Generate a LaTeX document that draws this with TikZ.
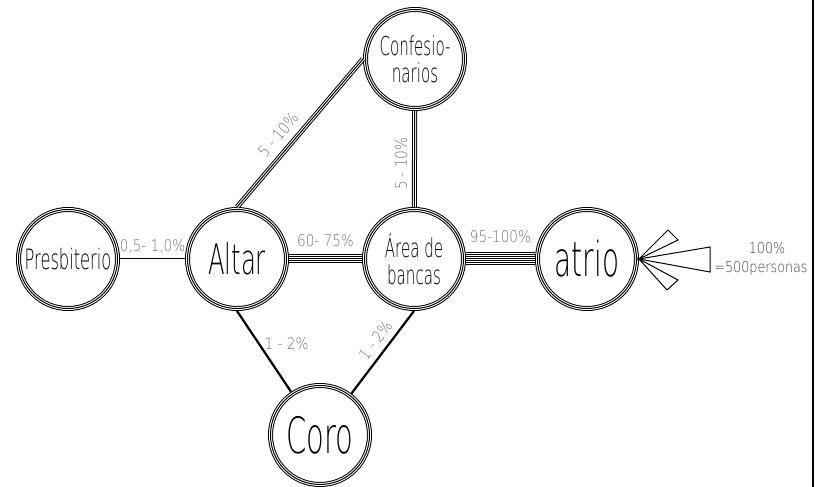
\documentclass[tikz,border=0pt]{standalone}
\usepackage{fontspec}
\usepackage{xcolor}
\usetikzlibrary{positioning}
\IfFontExistsTF{DejaVu Sans ExtraLight}
  {\newfontfamily\handfont{DejaVu Sans ExtraLight}[FakeStretch=0.58]
   \newfontfamily\lblfont{DejaVu Sans ExtraLight}[FakeStretch=0.85]}
  {\newfontfamily\handfont{DejaVu Sans}[FakeStretch=0.58]
   \newfontfamily\lblfont{DejaVu Sans}[FakeStretch=0.85]}

\begin{document}
\begin{tikzpicture}[
  x=1pt, y=1pt,
  ring/.style={circle, draw=black, line width=5pt, minimum size=99pt, inner sep=0pt,
               align=center,
               postaction={draw, white, line width=3pt},
               postaction={draw, black, line width=1pt}},
  hand/.style 2 args={font=\handfont\fontsize{#1}{#2}\selectfont},
  lbl/.style={font=\lblfont\fontsize{16}{16}\selectfont, text=black!55, inner sep=2pt},
  note/.style={font=\lblfont\fontsize{15}{15}\selectfont, text=black!75, inner sep=1pt},
  l2/.style={double, double distance=0.7pt, line width=0.5pt},
  l3/.style={line width=5pt,
             postaction={draw, white, line width=3pt},
             postaction={draw, black, line width=1pt}},
  l5/.style={line width=9pt,
             postaction={draw, white, line width=7pt},
             postaction={draw, black, line width=5pt},
             postaction={draw, white, line width=3pt},
             postaction={draw, black, line width=1pt}},
  l7/.style={line width=13pt,
             postaction={draw, white, line width=11pt},
             postaction={draw, black, line width=9pt},
             postaction={draw, white, line width=7pt},
             postaction={draw, black, line width=5pt},
             postaction={draw, white, line width=3pt},
             postaction={draw, black, line width=1pt}},
  thk/.style={line width=2.2pt},
  fan/.style={line width=1pt, line join=miter},
]
  \useasboundingbox (0,0) rectangle (825,487);

  \node[ring, hand={28}{28}] (presb) at (68,228) {Presbiterio};
  \node[ring, hand={42}{42}] (altar) at (237,228) {Altar};
  \node[ring, hand={26}{27}] (area) at (414,228) {Área de\\bancas};
  \node[ring, hand={48}{48}] (atrio) at (587,228) {atrio};
  \node[ring, hand={26}{27}] (conf) at (415,428) {Confesio-\\narios};
  \node[ring, hand={50}{50}] (coro) at (320,52) {Coro};

  \draw[l2] (presb) -- (altar) node[midway, above=3pt, lbl] {0,5- 1,0\%};
  \draw[l5] (altar) -- (area) node[midway, above=5.5pt, lbl] {60- 75\%};
  \draw[l7] (area) -- (atrio) node[midway, above=7.5pt, lbl] {95-100\%};
  \draw[l3] (altar.north) -- (conf.west) node[pos=0.42, above=5pt, sloped, lbl] {5 - 10\%};
  \draw[l3] (area) -- (conf) node[pos=0.45, above=3pt, sloped, lbl] {5 - 10\%};
  \draw[thk] (altar.south) -- (coro) node[pos=0.4, right=3pt, lbl] {1 - 2\%};
  \draw[thk] (coro) -- (area.south) node[pos=0.55, above=4pt, sloped, lbl] {1 - 2\%};

  \draw[fan] (atrio.east) -- (668,257) -- (678,247) -- cycle;
  \draw[fan] (atrio.east) -- (710,240) -- (710,215) -- cycle;
  \draw[fan] (atrio.east) -- (667,197) -- (678,207) -- cycle;

  \node[note] (pct) at (767,239) {100\%};
  \node[note] (ppl) at (761,219) {=500personas};

  \draw[line width=2pt] (813,0) -- (813,487);
\end{tikzpicture}
\end{document}
